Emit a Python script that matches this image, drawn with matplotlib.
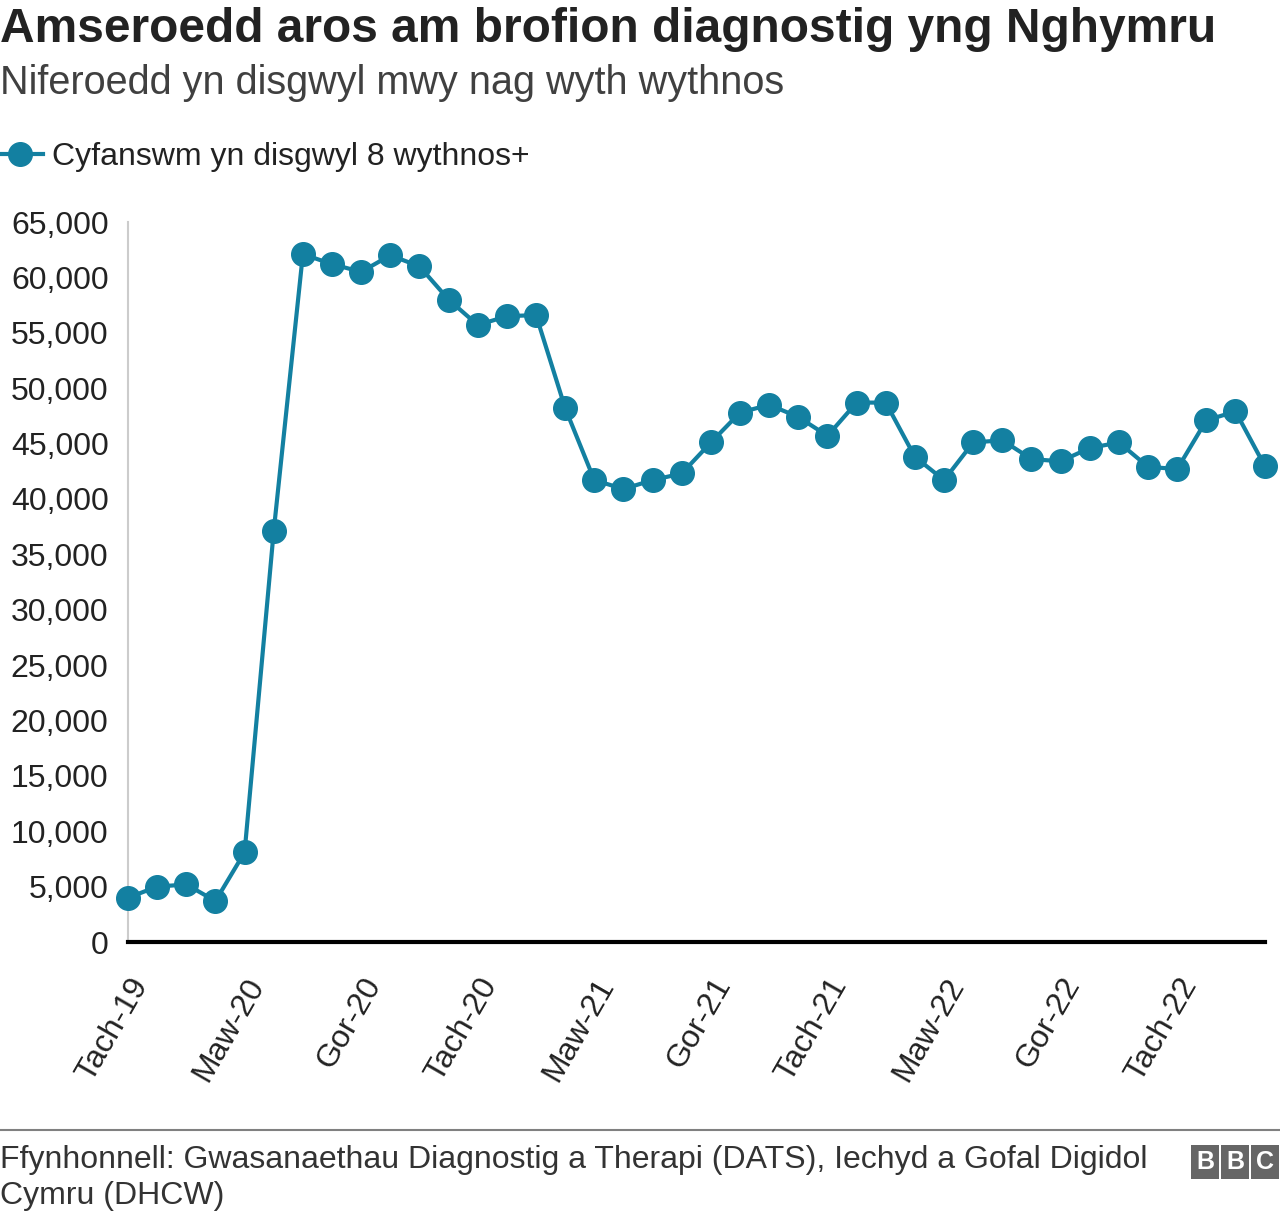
import matplotlib.pyplot as plt
from matplotlib.ticker import FuncFormatter
import numpy as np

plt.rcParams['font.family'] = ['Liberation Sans', 'DejaVu Sans']

# Monthly totals, Nov 2019 - Feb 2023
values = [4000, 5000, 5200, 3700, 8100, 37100, 62100, 61200, 60500, 62000,
          61000, 58000, 55700, 56500, 56600, 48200, 41700, 40900, 41700, 42300,
          45100, 47800, 48500, 47400, 45700, 48700, 48700, 43800, 41700, 45100,
          45300, 43600, 43400, 44600, 45100, 42900, 42700, 47100, 47900, 43000]
tick_pos = [0, 4, 8, 12, 16, 20, 24, 28, 32, 36]
tick_labels = ['Tach-19', 'Maw-20', 'Gor-20', 'Tach-20', 'Maw-21',
               'Gor-21', 'Tach-21', 'Maw-22', 'Gor-22', 'Tach-22']
series_name = 'Cyfanswm yn disgwyl 8 wythnos+'
teal = '#1380A1'

fig = plt.figure(figsize=(12.8, 12.16), dpi=100)
ax = fig.add_axes([0.1, 0.2253, 0.888, 0.5921])

x = np.arange(len(values))
ax.plot(x, values, color=teal, lw=3, marker='o', ms=17, clip_on=False, zorder=3)

ax.set_xlim(0, len(values) - 1)
ax.set_ylim(0, 65000)
ax.set_yticks(range(0, 65001, 5000))
ax.yaxis.set_major_formatter(FuncFormatter(lambda v, p: f'{int(v):,}'))
ax.set_xticks(tick_pos)
ax.set_xticklabels(tick_labels, rotation=60, ha='right', rotation_mode='anchor')
ax.tick_params(axis='both', length=0, labelsize=23, labelcolor='#222222')
ax.tick_params(axis='y', pad=14)
ax.tick_params(axis='x', pad=22)

for s in ['top', 'right']:
    ax.spines[s].set_visible(False)
ax.spines['left'].set_color('#cccccc')
ax.spines['left'].set_linewidth(1.5)
ax.spines['bottom'].set_color('black')
ax.spines['bottom'].set_linewidth(3)
ax.spines['bottom'].set_zorder(4)

# titles
fig.text(0.0, 1 - 30 / 1216, 'Amseroedd aros am brofion diagnostig yng Nghymru',
         fontsize=34.5, fontweight='bold', va='center', ha='left', color='#222222')
fig.text(0.0, 1 - 83 / 1216, 'Niferoedd yn disgwyl mwy nag wyth wythnos',
         fontsize=28.5, va='center', ha='left', color='#404040')

# legend
fig.legend(handles=ax.get_lines(), labels=[series_name], loc='center left',
           bbox_to_anchor=(-0.024, 1 - 157 / 1216), frameon=False, fontsize=23,
           handlelength=1.4, handletextpad=0.3, labelcolor='#222222')

# footer
fig.add_artist(plt.Line2D([0, 1], [1 - 1130 / 1216] * 2, color='#808080', lw=1.5))
fig.text(0.0, 1 - 1160 / 1216, 'Ffynhonnell: Gwasanaethau Diagnostig a Therapi (DATS), Iechyd a Gofal Digidol',
         fontsize=23, va='center', ha='left', color='#333333')
fig.text(0.0, 1 - 1196 / 1216, 'Cymru (DHCW)',
         fontsize=23, va='center', ha='left', color='#333333')
for i, ch in enumerate('BBC'):
    fig.text((1205 + i * 30) / 1280, 1 - 1162 / 1216, ch, fontsize=18, fontweight='bold',
             color='white', ha='center', va='center',
             bbox=dict(boxstyle='square,pad=0.2', fc='#666666', ec='none'))

fig.savefig('out.png', dpi=100)
